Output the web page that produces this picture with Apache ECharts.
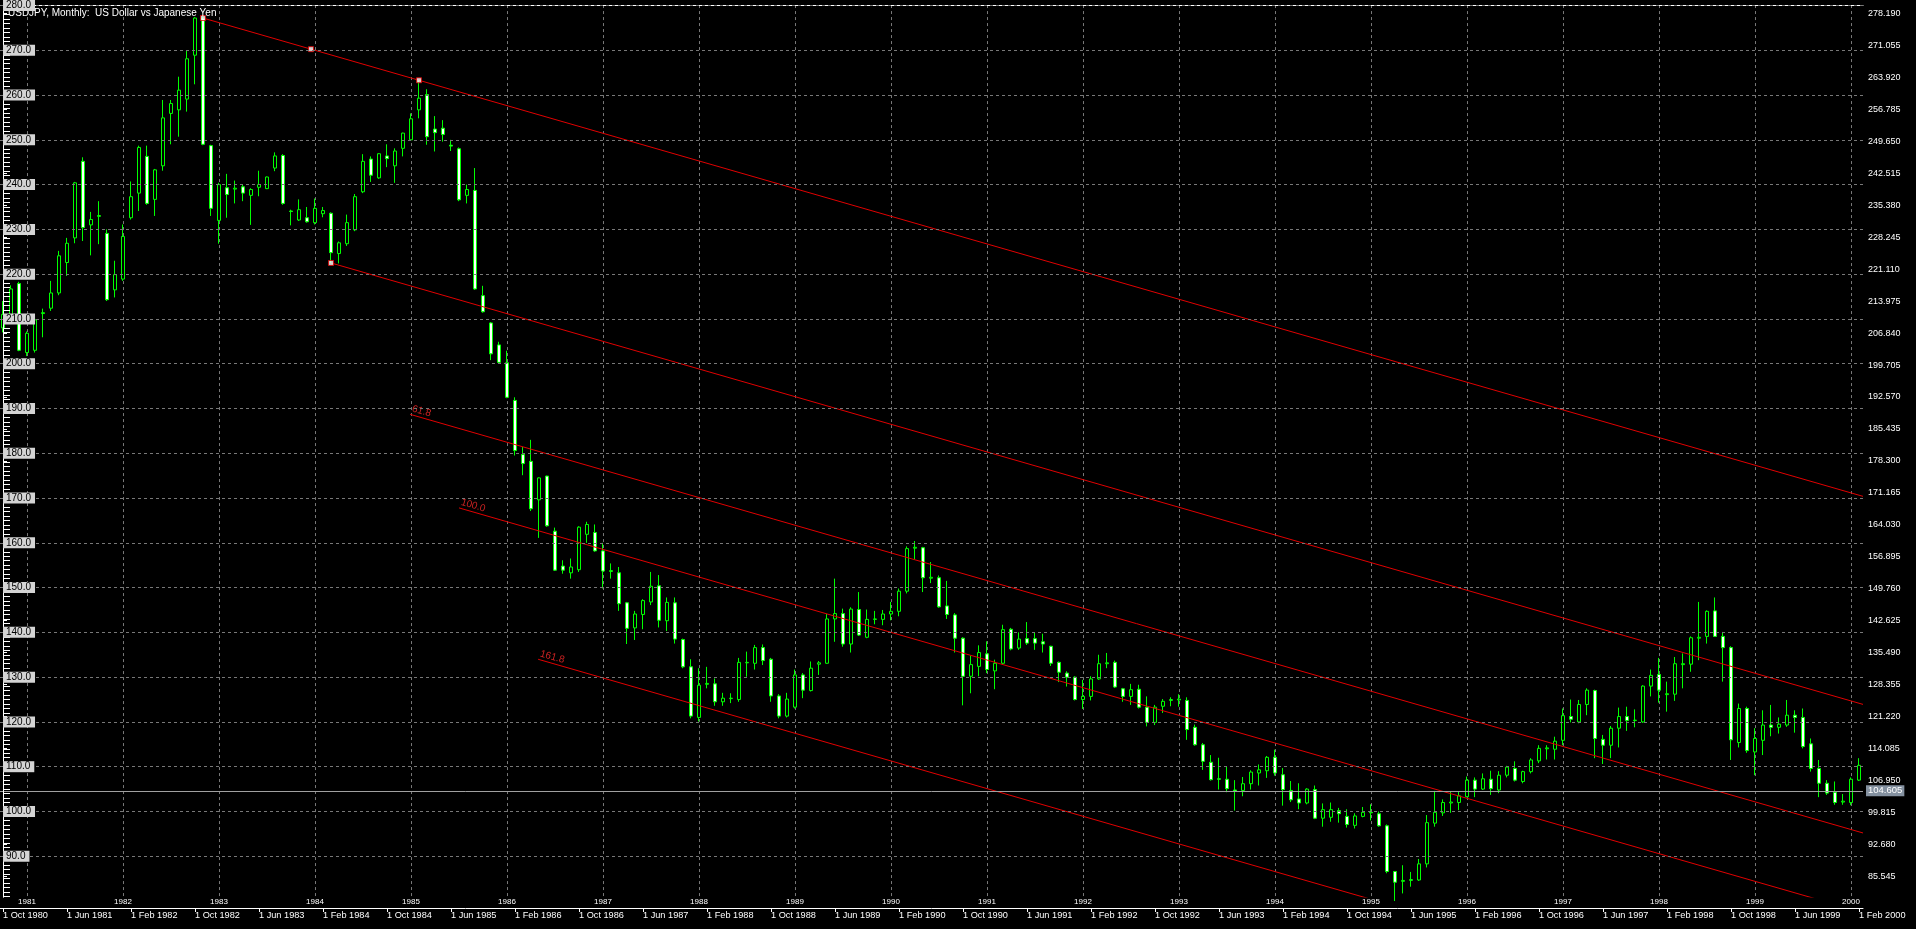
<!DOCTYPE html>
<html><head><meta charset="utf-8">
<script src="https://cdn.jsdelivr.net/npm/echarts@6/dist/echarts.min.js"></script>
<style>html,body{margin:0;padding:0;background:#000;overflow:hidden}#c{width:1916px;height:929px}</style>
</head><body><div id="c"></div>
<script>
// ---- data: monthly USDJPY, Oct 1980 .. Feb 2000 (index 0 = Oct 1980) ----
const opens = [
208.0,210.5,217.9,202.5,203.0,211.2,212.4,215.8,222.6,228.1,245.2,231.0,232.9,229.1,216.5,218.9,232.6,238.1,246.3,236.7,
244.2,255.9,256.7,259.1,268.9,277.2,248.7,232.0,239.3,239.0,239.5,237.6,239.4,239.1,243.7,246.5,234.1,232.1,232.6,231.5,
233.5,233.6,224.6,226.8,229.9,238.4,245.7,241.5,246.4,244.2,248.1,250.0,256.7,260.1,252.4,252.6,248.8,248.0,237.6,238.7,
215.2,209.1,204.2,200.2,191.8,179.7,178.2,169.6,174.9,162.6,154.8,153.3,154.0,161.9,162.3,158.2,153.6,153.3,146.6,141.0,
144.0,146.8,150.4,142.6,146.6,138.4,132.3,121.0,128.4,128.5,124.5,125.2,125.0,133.2,133.1,136.6,134.0,125.8,121.3,123.3,
130.5,127.0,132.9,133.1,143.0,144.2,137.4,145.1,138.9,142.9,142.9,144.1,144.7,149.2,158.8,158.9,152.1,152.2,145.9,143.9,
138.7,130.2,132.4,135.2,131.4,133.1,140.7,136.5,138.6,138.6,137.9,136.9,133.3,130.9,130.0,125.0,125.7,129.6,133.0,133.3,
127.4,125.7,127.3,123.3,119.9,123.5,124.8,124.9,124.8,118.8,114.9,111.0,107.3,107.2,104.8,104.7,106.2,108.6,109.1,112.1,
108.2,104.7,102.8,101.9,104.9,98.5,98.7,100.2,98.9,96.9,98.9,99.8,99.5,96.8,86.6,84.4,84.6,84.7,88.3,97.4,
99.7,101.9,102.0,103.3,107.0,105.0,107.2,104.8,108.1,109.6,106.7,108.9,111.3,114.0,113.9,115.9,121.2,120.0,123.9,127.0,
116.1,114.8,118.6,121.2,120.3,120.0,128.0,130.6,126.1,126.2,132.8,132.9,138.7,139.1,144.8,139.1,136.6,115.4,123.0,113.3,
115.9,119.3,118.8,119.3,121.5,121.0,115.1,109.6,106.3,104.3,102.1,102.0,107.0
];
const highs = [
214.0,217.5,218.3,207.2,211.0,212.3,218.5,225.2,228.1,240.6,246.1,233.9,236.3,230.0,223.0,231.1,240.7,248.7,248.7,243.5,
258.9,258.9,264.1,270.0,277.4,277.6,248.9,240.4,242.4,240.9,240.1,239.2,243.1,241.8,247.2,246.8,234.4,236.7,235.0,236.9,
235.0,233.8,227.3,233.3,237.9,246.8,246.3,247.0,249.0,248.1,251.6,255.9,263.3,261.3,255.3,254.4,250.0,248.3,240.0,243.7,
217.4,209.3,204.9,202.9,192.5,181.4,183.0,174.6,175.0,163.4,156.1,156.5,163.7,164.7,164.1,160.0,155.4,154.6,146.8,144.8,
147.4,153.5,152.8,147.8,147.8,138.6,134.0,132.0,132.3,129.7,126.5,126.4,134.3,135.7,137.2,137.3,134.3,126.2,126.5,131.7,
130.9,133.5,133.6,144.1,152.0,145.3,145.6,149.0,145.1,144.8,145.0,146.8,149.8,159.2,160.4,159.1,155.7,152.7,151.5,144.3,
138.9,134.8,137.1,138.0,133.9,141.7,141.0,140.0,142.3,140.0,139.7,137.0,133.5,131.3,130.2,129.4,130.2,135.0,135.4,133.7,
127.6,128.5,128.3,125.7,123.8,125.1,125.5,126.2,125.5,119.4,115.3,112.6,112.0,110.0,107.0,107.7,109.2,110.5,112.4,113.8,
109.7,106.8,106.3,105.2,105.8,101.8,102.0,100.8,100.5,99.6,101.0,101.6,100.0,97.1,86.7,88.0,86.5,89.4,99.2,104.6,
102.7,104.4,104.4,107.8,107.6,108.5,109.1,109.0,110.2,111.2,109.1,111.9,114.8,114.8,116.7,123.0,125.0,124.9,127.5,127.2,
117.1,119.1,123.2,123.4,122.8,128.2,131.7,134.3,129.0,134.5,135.3,139.1,146.8,144.9,147.8,140.1,136.9,124.1,123.4,118.6,
122.6,123.8,121.0,124.9,122.6,123.0,116.3,111.5,107.0,106.7,103.9,107.6,111.9
];
const lows = [
207.0,209.5,202.8,201.7,202.5,205.9,211.8,215.3,219.6,226.9,227.4,224.2,226.7,214.0,214.8,218.5,232.2,234.1,235.5,233.0,
243.1,249.0,250.7,256.3,262.4,248.8,233.0,226.8,232.6,235.8,236.3,231.0,237.4,239.0,243.0,235.5,230.9,231.9,231.5,231.1,
232.7,222.5,222.4,226.3,229.6,238.1,240.6,241.3,243.9,240.4,246.3,249.8,254.8,248.9,247.4,249.6,247.5,236.3,235.8,216.5,
211.4,200.8,200.0,192.3,179.5,175.1,167.1,161.1,163.6,153.7,153.1,152.0,153.5,160.0,158.0,149.8,152.0,144.8,137.4,138.3,
140.7,146.1,141.1,140.3,137.5,132.0,120.8,120.1,127.5,123.6,123.6,124.2,124.5,130.1,131.7,132.7,124.5,120.8,121.0,123.0,
125.3,126.8,130.5,133.0,137.9,136.8,135.5,139.2,138.7,141.8,141.6,142.7,143.6,148.7,156.2,149.0,151.0,145.5,143.0,135.5,
123.7,126.4,130.2,130.9,127.3,132.9,136.0,136.1,137.2,136.1,135.5,132.5,128.9,127.9,124.8,122.9,124.8,129.4,132.0,127.6,
124.5,123.8,123.0,119.0,119.3,122.0,123.5,123.4,116.0,114.7,109.3,106.9,104.9,104.3,100.2,103.4,104.9,105.8,107.5,108.0,
101.3,102.1,100.5,101.6,98.3,96.6,97.7,97.5,96.4,96.2,98.7,98.0,96.6,86.2,80.0,81.7,83.2,84.5,87.5,96.6,
99.0,99.7,100.3,103.2,103.2,104.8,103.7,104.1,107.6,106.7,106.3,108.5,110.8,111.6,111.6,114.8,119.9,119.7,121.5,111.9,
110.6,111.9,114.3,118.0,118.8,119.8,125.7,124.3,122.3,124.7,127.5,131.2,133.8,137.5,139.0,129.0,111.5,114.3,113.1,108.1,
112.6,116.8,117.4,118.9,117.6,114.1,108.9,103.2,103.7,101.5,101.5,101.4,106.8
];
const closes = [
211.0,216.7,203.0,206.8,209.8,211.4,215.8,224.1,226.9,240.4,230.4,232.2,233.1,214.3,219.9,228.4,237.3,248.3,235.8,243.3,
254.9,258.1,261.1,268.1,277.2,249.0,234.7,240.0,237.8,239.2,238.1,238.9,240.0,241.7,246.4,235.8,234.0,234.4,231.7,234.7,
234.2,224.8,227.0,231.5,237.3,245.2,242.1,246.9,245.8,247.5,251.5,254.7,259.3,250.7,251.6,251.2,248.6,236.6,238.9,216.7,
211.6,202.2,200.3,192.5,180.6,177.7,167.6,174.5,163.8,153.9,153.9,154.6,163.5,164.1,158.2,153.7,153.8,146.4,140.9,144.1,
147.1,150.3,142.7,146.7,138.5,132.3,121.3,128.2,128.6,124.5,125.3,125.3,133.3,133.3,136.6,133.7,125.8,121.3,125.1,130.5,
127.1,132.0,133.2,143.0,144.2,137.4,145.2,139.4,142.9,143.0,144.1,144.7,149.2,158.7,159.0,152.2,152.3,145.7,144.0,138.7,
130.2,132.8,135.5,131.7,133.1,140.6,136.3,138.5,137.6,137.6,137.4,133.1,131.1,130.0,125.0,125.7,129.6,133.0,133.2,127.8,
125.7,127.2,123.3,119.9,123.3,124.6,125.0,125.1,118.3,114.9,111.2,107.1,107.2,105.1,104.6,106.2,108.8,109.3,112.1,108.6,
104.9,102.6,101.9,105.0,98.5,100.4,100.4,99.5,97.1,99.0,99.8,99.7,96.8,86.6,84.2,84.6,84.8,88.3,97.5,99.8,
102.0,102.1,103.5,107.0,105.0,107.3,105.1,108.1,109.9,107.0,108.9,111.5,114.1,114.2,115.7,121.4,120.6,123.9,127.1,116.3,
114.8,118.6,121.2,120.3,120.4,128.0,130.4,127.1,126.3,133.0,133.0,138.8,138.9,144.7,139.1,136.6,116.0,123.0,113.6,116.3,
119.3,118.8,119.5,121.5,121.0,114.5,109.6,106.3,104.1,102.0,102.3,107.2,110.3
];
// bottom time-axis labels (one every 8 bars, starting at bar 0)
const monthTickLabels = ['1 Oct 1980','1 Jun 1981','1 Feb 1982','1 Oct 1982','1 Jun 1983','1 Feb 1984','1 Oct 1984','1 Jun 1985',
'1 Feb 1986','1 Oct 1986','1 Jun 1987','1 Feb 1988','1 Oct 1988','1 Jun 1989','1 Feb 1990','1 Oct 1990','1 Jun 1991','1 Feb 1992',
'1 Oct 1992','1 Jun 1993','1 Feb 1994','1 Oct 1994','1 Jun 1995','1 Feb 1996','1 Oct 1996','1 Jun 1997','1 Feb 1998','1 Oct 1998',
'1 Jun 1999','1 Feb 2000'];
// year separators (January bars, first one is bar 3)
const yearLabels = ['1981','1982','1983','1984','1985','1986','1987','1988','1989','1990',
'1991','1992','1993','1994','1995','1996','1997','1998','1999','2000'];
const rightAxisLabels = [278.190,271.055,263.920,256.785,249.650,242.515,235.380,228.245,221.110,213.975,206.840,199.705,192.570,
185.435,178.300,171.165,164.030,156.895,149.760,142.625,135.490,128.355,121.220,114.085,106.950,99.815,92.680,85.545];
const leftAxisLabels = [90,100,110,120,130,140,150,160,170,180,190,200,210,220,230,240,250,260,270,280];
// Fibonacci channel anchors [bar index, price]
const anchor1 = [25, 277.2];
const anchor2 = [52, 263.3];
const anchor3 = [41, 222.5];
const fibLevels = [61.8, 100.0, 161.8, 261.8];
const lastPrice = 104.605;
const title = 'USDJPY, Monthly:  US Dollar vs Japanese Yen';

// ---- build ----
const FONT = 'Liberation Sans, Arial, sans-serif';
const X_MIN = -0.375, X_MAX = 232.5, Y_MIN = 80.9, Y_MAX = 280.1;
const candleData = opens.map((o, i) => [i, o, closes[i], lows[i], highs[i]]);
const monthTickIdx = monthTickLabels.map((_, k) => k * 8);
const yearTickIdx = yearLabels.map((_, k) => 3 + k * 12);
const rulerTicks = [];
for (let v = Math.ceil(Y_MIN); v <= Math.floor(Y_MAX); v++) rulerTicks.push(v);

const slope = (anchor2[1] - anchor1[1]) / (anchor2[0] - anchor1[0]);
function levelLine(m) {
  const si = anchor1[0] + m * (anchor3[0] - anchor1[0]);
  const sv = anchor1[1] + m * (anchor3[1] - anchor1[1]);
  return [[si, sv], [X_MAX, sv + slope * (X_MAX - si)]];
}
const multipliers = [0, 1].concat(fibLevels.map(l => 1 + l / 100));
const RED = '#e00000';
const fibSeries = multipliers.map(m => ({
  type: 'line', xAxisIndex: 0, yAxisIndex: 0, data: levelLine(m), showSymbol: false, symbol: 'none',
  clip: true, silent: true, animation: false, lineStyle: { color: RED, width: 1 }, z: 3
}));
const midA = [(anchor1[0] + anchor2[0]) / 2, (anchor1[1] + anchor2[1]) / 2];
const markerSeries = {
  type: 'scatter', xAxisIndex: 0, yAxisIndex: 0, data: [anchor1, midA, anchor2, anchor3], symbol: 'rect', symbolSize: 5,
  itemStyle: { color: '#ffffff', borderColor: RED, borderWidth: 1 }, silent: true, z: 4, clip: true
};
const labelData = fibLevels
  .map(l => { const p = levelLine(1 + l / 100)[0]; return [p[0], p[1], l.toFixed(1)]; })
  .filter(d => d[1] >= Y_MIN);
const labelSeries = {
  type: 'scatter', xAxisIndex: 0, yAxisIndex: 0, clip: false, silent: true, z: 4,
  data: labelData,
  symbol: 'circle', symbolSize: 1, itemStyle: { color: 'rgba(0,0,0,0)' },
  label: { show: true, formatter: p => p.data[2], position: 'right', distance: 0, offset: [0, -6], rotate: -16,
    color: '#ff2a2a', fontSize: 10, fontFamily: FONT }
};

const chart = echarts.init(document.getElementById('c'), null, { renderer: 'canvas' });
chart.setOption({
  backgroundColor: '#000000',
  animation: false,
  title: { text: title, left: 3, top: 3, textStyle: { color: '#ffffff', fontSize: 10, fontWeight: 'normal', fontFamily: FONT } },
  grid: { left: 0, right: 53, top: 3, bottom: 32, containLabel: false },
  xAxis: [
    { type: 'value', min: X_MIN, max: X_MAX, position: 'bottom', offset: 11,
      axisLine: { show: true, lineStyle: { color: '#ffffff', width: 1 } },
      axisTick: { show: true, length: 4, customValues: monthTickIdx, lineStyle: { color: '#ffffff' } },
      axisLabel: { show: true, customValues: monthTickIdx, formatter: v => monthTickLabels[Math.round(v / 8)], align: 'left', margin: 3,
        color: '#ffffff', fontSize: 9.2, fontFamily: FONT },
      splitLine: { show: false } },
    { type: 'value', min: X_MIN, max: X_MAX, position: 'bottom', offset: 0,
      axisLine: { show: false }, axisTick: { show: false, customValues: yearTickIdx },
      axisLabel: { show: true, customValues: yearTickIdx, formatter: v => yearLabels[Math.round((v - 3) / 12)], margin: 1,
        color: '#ffffff', fontSize: 8, fontFamily: FONT },
      splitLine: { show: true, lineStyle: { color: '#787878', type: [3, 3], width: 1 } } },
    { type: 'value', min: X_MIN, max: X_MAX, position: 'top',
      axisLine: { show: true, lineStyle: { color: '#ffffff', width: 1 } }, axisTick: { show: false }, axisLabel: { show: false },
      splitLine: { show: false } }
  ],
  yAxis: [
    { type: 'value', min: Y_MIN, max: Y_MAX, position: 'right',
      axisLine: { show: true, lineStyle: { color: '#ffffff', width: 1 } },
      axisTick: { show: true, length: 4, customValues: rightAxisLabels, lineStyle: { color: '#ffffff' } },
      axisLabel: { show: true, customValues: rightAxisLabels, formatter: v => v.toFixed(3), margin: 5, color: '#ffffff', fontSize: 9, fontFamily: FONT },
      splitLine: { show: false } },
    { type: 'value', min: Y_MIN, max: Y_MAX, position: 'left', offset: -3, z: 10,
      axisLine: { show: true, lineStyle: { color: '#ffffff', width: 1 } },
      axisTick: { show: true, inside: true, length: 7, customValues: rulerTicks, lineStyle: { color: '#ffffff' } },
      axisLabel: { show: false }, splitLine: { show: false } },
    { type: 'value', min: Y_MIN, max: Y_MAX, position: 'left', offset: -3, z: 11,
      axisLine: { show: false }, axisTick: { show: false, customValues: leftAxisLabels },
      axisLabel: { show: true, inside: true, customValues: leftAxisLabels, formatter: v => v.toFixed(1), margin: 0,
        color: '#000000', backgroundColor: '#d4d4d4', padding: [1, 4, 0, 3], fontSize: 10, fontFamily: FONT },
      splitLine: { show: true, lineStyle: { color: '#787878', type: [3, 3], width: 1 } } }
  ],
  series: [
    { type: 'candlestick', name: 'USDJPY', xAxisIndex: 0, yAxisIndex: 0, data: candleData, encode: { x: 0, y: [1, 2, 3, 4] },
      barWidth: 4, clip: true, z: 2,
      itemStyle: { color: '#000000', color0: '#ffffff', borderColor: '#00ff00', borderColor0: '#00ff00', borderColorDoji: '#00ff00', borderWidth: 1 },
      markLine: { silent: true, symbol: 'none', animation: false,
        data: [{ yAxis: lastPrice }],
        lineStyle: { color: '#a0a0a0', type: 'solid', width: 1 },
        label: { show: true, position: 'end', distance: 3, formatter: lastPrice.toFixed(3), color: '#ffffff', backgroundColor: '#8491a0',
          padding: [1, 2, 0, 2], fontSize: 9.5, fontFamily: FONT } } },
    ...fibSeries, markerSeries, labelSeries
  ]
});
</script></body></html>
